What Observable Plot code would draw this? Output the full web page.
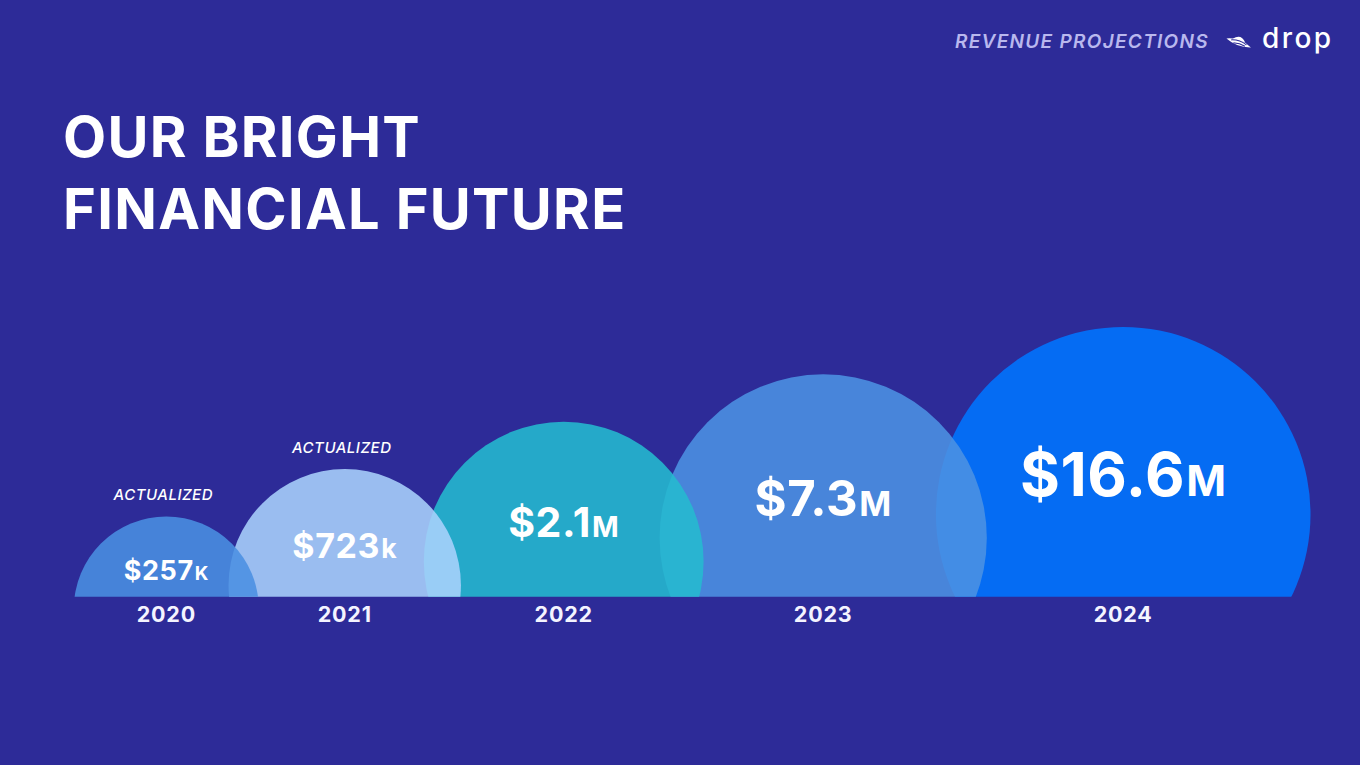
<!DOCTYPE html>
<html>
<head>
<meta charset="utf-8">
<script src="https://cdn.jsdelivr.net/npm/d3@7"></script>
<script src="https://cdn.jsdelivr.net/npm/@observablehq/plot@0.6"></script>
<style>
  html, body { margin: 0; padding: 0; width: 1360px; height: 765px; overflow: hidden; background: #2d2b98; font-family: Inter, "Noto Sans", sans-serif; }
  .hdr { position: absolute; top: 32px; left: 955px; font-size: 19px; line-height: 19px; font-style: italic; font-weight: 600; letter-spacing: 1.3px; color: #b9b8ee; white-space: nowrap; }
  .logo { position: absolute; top: 33px; left: 1225px; }
  .brand { position: absolute; top: 23px; left: 1262px; font-size: 28px; line-height: 30px; font-weight: 500; letter-spacing: 2.4px; color: #ffffff; }
  .title { position: absolute; top: 101px; left: 63px; font-size: 56px; line-height: 72px; font-weight: 700; letter-spacing: 1.3px; color: #ffffff; white-space: nowrap; }
  #chart { position: absolute; top: 300px; left: 0; }
</style>
</head>
<body>
<div class="hdr">REVENUE PROJECTIONS</div>
<svg class="logo" width="28" height="18" viewBox="0 0 28 18">
  <g transform="rotate(20 14 9)">
    <path d="M1 10 Q14 4 27 10 Q14 15 1 10 Z" fill="#ffffff"/>
    <path d="M7 8.2 Q13 0 20 7.4 Z" fill="#ffffff"/>
    <path d="M6 9.6 Q14 6.4 22 9.2" fill="none" stroke="#2d2b98" stroke-width="1.1"/>
    <path d="M9 11.6 Q15 9.8 21 11" fill="none" stroke="#2d2b98" stroke-width="1"/>
  </g>
</svg>
<div class="brand">drop</div>
<div class="title">OUR BRIGHT<br>FINANCIAL FUTURE</div>
<div id="chart"></div>
<script>
// ---- data ----
const years = [2020, 2021, 2022, 2023, 2024];
const revenue = [257000, 723000, 2100000, 7300000, 16600000];
const amountLabels = ["$257", "$723", "$2.1", "$7.3", "$16.6"];
const unitLabels = ["K", "k", "M", "M", "M"];
const notes = ["ACTUALIZED", "ACTUALIZED", "", "", ""];

// ---- styles ----
const fills = ["#4a90e1", "#aad1fc", "#24bbcf", "#4c92e3", "#0075ff"];
const drawLayer = [2, 1, 0, 3, 4];
const labelSizes = [27, 34, 41, 49, 61];

// ---- layout ----
const W = 1360, H = 360;
const frameBottom = 296.7;          // baseline the bubbles are cut at
const floorY = 401;                  // line the full circles rest on
const leftPad = 73.3;
const packing = 0.855;               // overlap factor between neighbours
const rRange = [92.5, 187.3];
const rScale = d3.scaleLinear([years[0], years[years.length - 1]], rRange);

const rows = years.map((year, i) => ({
  year, value: revenue[i], amount: amountLabels[i], unit: unitLabels[i], note: notes[i],
  fill: fills[i], layer: drawLayer[i], size: labelSizes[i], r: rScale(year)
}));
rows.forEach((d, i) => {
  d.cx = i === 0 ? leftPad + d.r : rows[i - 1].cx + packing * (rows[i - 1].r + d.r);
  d.cy = floorY - d.r;
  d.top = d.cy - d.r;
});

const plot = Plot.plot({
  width: W, height: H,
  marginTop: 0, marginLeft: 0, marginRight: 0, marginBottom: H - frameBottom,
  style: { background: "transparent", color: "#ffffff", fontFamily: "Inter, 'Noto Sans', sans-serif", overflow: "visible" },
  x: { type: "identity", axis: null },
  y: { type: "identity", axis: null },
  r: { type: "linear", domain: [years[0], years[years.length - 1]], range: rRange },
  color: { type: "identity" },
  marks: [
    Plot.dot(d3.sort(rows, d => d.layer), {
      x: "cx", y: "cy", r: "year", fill: "fill", fillOpacity: 0.88, stroke: null, clip: "frame"
    }),
    Plot.text(rows, {
      x: "cx", y: "cy", dy: -38, text: d => d.amount + d.unit, fontSize: "size",
      fontWeight: 700, fill: "#ffffff"
    }),
    Plot.text(rows.filter(d => d.note), {
      x: "cx", y: "top", dy: -21, dx: -3, text: "note", fontSize: 15, fontStyle: "italic",
      fontWeight: 500, fill: "#ffffff"
    }),
    Plot.text(rows, {
      x: "cx", frameAnchor: "bottom", lineAnchor: "middle", dy: 17.5, text: d => String(d.year), fontSize: 21.5,
      fontWeight: 700, fill: "#f4f4ff"
    })
  ]
});

const svg = d3.select(plot);
const units = new Set(unitLabels);
svg.selectAll("text").each(function () {
  const t = this.textContent;
  const sel = d3.select(this);
  if (t.startsWith("$") && units.has(t.slice(-1))) {
    const main = t.slice(0, -1), unit = t.slice(-1);
    const lower = unit === unit.toLowerCase();
    sel.text(null).attr("letter-spacing", "0.6px");
    sel.append("tspan").text(main);
    sel.append("tspan").attr("font-size", lower ? "0.78em" : "0.7em").attr("dx", "1").text(unit);
  } else if (notes.includes(t) && t) {
    sel.attr("letter-spacing", "0.5px");
  } else if (/^\d{4}$/.test(t)) {
    sel.attr("letter-spacing", "0.8px");
  }
});

document.getElementById("chart").appendChild(plot);
</script>
</body>
</html>
